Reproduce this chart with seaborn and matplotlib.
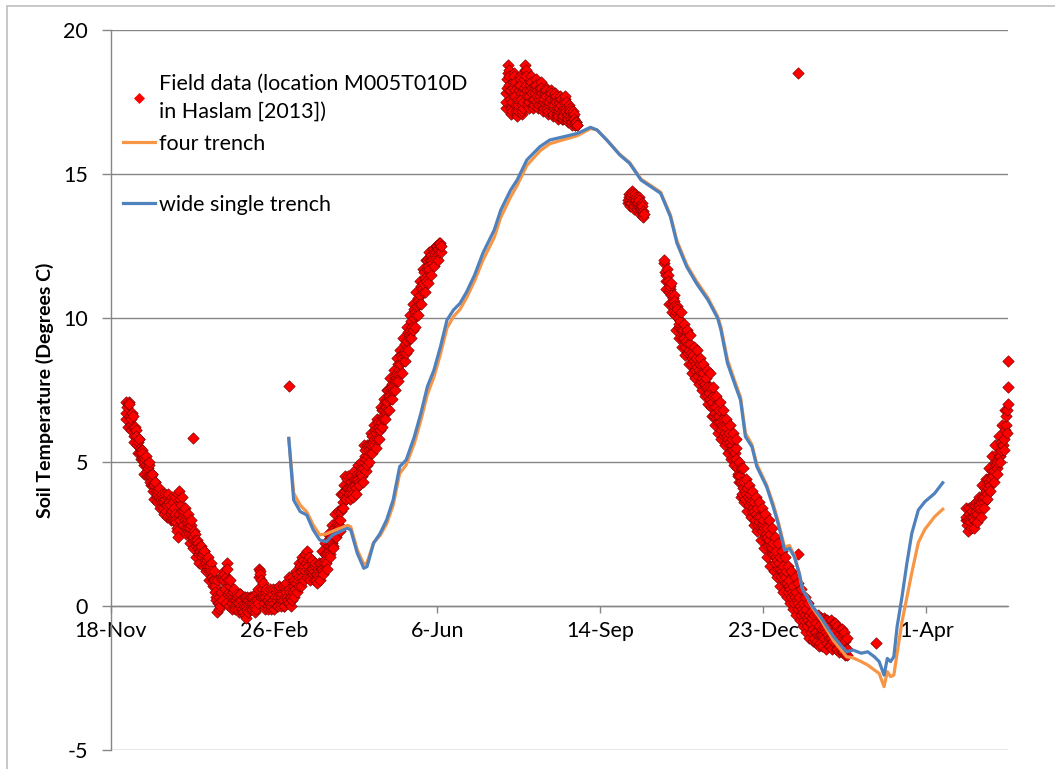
import numpy as np
import pandas as pd
import matplotlib
matplotlib.use("Agg")
import matplotlib.pyplot as plt
from matplotlib.lines import Line2D
from matplotlib.patches import Rectangle
from matplotlib.ticker import FixedLocator, FuncFormatter
import matplotlib.dates as mdates
import seaborn as sns

START = pd.Timestamp("2010-11-18")

# ---- Field observations (day 0 = 18-Nov-2010) ----
# Several readings per logging interval ("a", "b", "c" at staggered times of day).
field1_days_a = np.arange(9, 203)
field1_temp_a = [
    6.5, 6.9, 7.1, 6.3, 6.7, 5.9, 6.2, 5.6, 5.8, 5.3,
    5.4, 4.9, 5.1, 4.7, 4.9, 4.3, 4.6, 4.0, 4.3, 3.8,
    4.0, 3.6, 3.8, 3.4, 3.7, 3.3, 3.8, 3.5, 3.0, 3.6,
    3.2, 2.9, 2.4, 4.0, 3.5, 3.1, 3.3, 2.7, 3.0, 2.5,
    2.8, 2.3, 2.6, 2.1, 2.3, 1.8, 2.0, 1.7, 1.9, 1.4,
    1.6, 1.2, 1.4, 1.0, 0.9, 0.5, -0.2, 0.3, 0.0, 0.9,
    1.2, 0.6, 1.5, 0.4, 0.7, 0.1, 0.5, 0.0, 0.3, -0.1,
    0.4, 0.0, -0.2, 0.3, -0.4, 0.2, -0.1, 0.3, 0.0, 0.2,
    -0.1, 0.6, 1.3, 0.9, 0.4, 0.1, 0.5, 0.0, 0.3, -0.1,
    0.4, 0.1, 0.5, 0.0, 0.6, 0.2, 0.4, 0.0, 0.7, 0.3,
    0.1, 0.5, 0.2, 0.9, 0.6, 1.1, 0.7, 1.4, 1.0, 1.6,
    1.2, 1.9, 1.4, 1.0, 1.5, 1.1, 1.4, 0.9, 1.3, 1.1,
    1.5, 1.2, 1.8, 1.5, 2.1, 1.8, 2.4, 2.1, 2.7, 2.5,
    3.0, 2.7, 3.3, 3.6, 4.2, 3.8, 4.4, 3.9, 4.3, 3.9,
    4.4, 4.1, 4.6, 4.3, 4.8, 4.5, 5.0, 5.4, 4.9, 5.6,
    5.3, 5.9, 5.6, 6.1, 5.8, 6.4, 6.1, 6.8, 6.5, 7.1,
    6.8, 7.5, 7.2, 7.7, 7.5, 8.0, 7.8, 8.4, 8.1, 8.7,
    8.5, 9.1, 8.8, 9.5, 9.3, 9.9, 9.6, 10.3, 10.1, 10.7,
    10.5, 11.1, 10.9, 11.6, 11.3, 12.0, 11.7, 12.2, 11.9, 12.3,
    12.1, 12.5, 12.3, 12.6,
]
field1_days_b = np.arange(9.5, 203)
field1_temp_b = [
    6.7, 7.0, 6.6, 6.5, 6.2, 6.1, 5.9, 5.7, 5.5, 5.4,
    5.1, 5.0, 4.9, 4.8, 4.5, 4.5, 4.2, 4.2, 4.0, 3.9,
    3.8, 3.7, 3.6, 3.6, 3.5, 3.5, 3.6, 3.2, 3.3, 3.4,
    3.0, 2.6, 3.2, 3.7, 3.3, 3.2, 3.0, 2.9, 2.7, 2.7,
    2.5, 2.4, 2.3, 2.2, 2.0, 1.9, 1.8, 1.8, 1.6, 1.5,
    1.4, 1.3, 1.2, 0.9, 0.7, 0.2, 0.1, 0.1, 0.5, 1.0,
    0.9, 1.0, 0.9, 0.5, 0.4, 0.3, 0.2, 0.2, 0.1, 0.1,
    0.2, -0.1, 0.0, 0.0, -0.1, 0.0, 0.1, 0.1, 0.1, 0.0,
    0.2, 1.0, 1.1, 0.6, 0.3, 0.3, 0.2, 0.2, 0.1, 0.1,
    0.2, 0.3, 0.2, 0.3, 0.4, 0.3, 0.2, 0.3, 0.5, 0.2,
    0.3, 0.3, 0.5, 0.7, 0.8, 0.9, 1.0, 1.2, 1.3, 1.4,
    1.5, 1.6, 1.2, 1.2, 1.3, 1.2, 1.1, 1.1, 1.2, 1.3,
    1.3, 1.5, 1.6, 1.8, 1.9, 2.1, 2.2, 2.4, 2.6, 2.8,
    2.8, 3.0, 3.4, 3.9, 4.0, 4.1, 4.1, 4.1, 4.1, 4.2,
    4.2, 4.4, 4.4, 4.6, 4.6, 4.8, 5.2, 5.1, 5.2, 5.4,
    5.6, 5.7, 5.8, 6.0, 6.1, 6.2, 6.4, 6.6, 6.8, 6.9,
    7.1, 7.3, 7.5, 7.6, 7.8, 7.9, 8.1, 8.2, 8.4, 8.6,
    8.8, 8.9, 9.2, 9.4, 9.6, 9.7, 10.0, 10.2, 10.4, 10.6,
    10.8, 11.0, 11.2, 11.4, 11.7, 11.8, 12.0, 12.0, 12.1, 12.2,
    12.3, 12.4, 12.5, 12.5,
]
field1_days_c = np.arange(9.25, 203)
field1_temp_c = [
    7.1, 6.2, 7.0, 6.1, 6.6, 5.7, 6.1, 5.3, 5.8, 5.1,
    5.3, 4.6, 5.2, 4.5, 5.0, 4.2, 4.6, 3.7, 4.3, 3.6,
    4.1, 3.4, 3.9, 3.2, 3.9, 3.1, 3.9, 3.1, 3.8, 3.0,
    3.8, 2.7, 3.9, 3.0, 3.8, 2.8, 3.4, 2.5, 3.2, 2.2,
    3.0, 2.0, 2.5, 1.7, 2.2, 1.5, 2.1, 1.4, 1.9, 1.2,
    1.7, 0.9, 1.5, 0.7, 1.2, 0.3, 0.9, -0.1, 1.0, 0.2,
    1.1, 0.1, 1.3, 0.0, 0.9, -0.1, 0.6, -0.1, 0.4, -0.2,
    0.4, -0.2, 0.3, -0.3, 0.3, -0.2, 0.3, -0.1, 0.3, -0.2,
    0.5, 0.1, 1.2, 0.3, 0.8, -0.1, 0.6, -0.1, 0.6, 0.0,
    0.6, -0.1, 0.6, 0.0, 0.7, 0.0, 0.7, 0.0, 0.8, 0.1,
    0.6, 0.0, 1.0, 0.3, 1.2, 0.5, 1.5, 0.7, 1.7, 0.9,
    1.8, 1.0, 1.7, 0.9, 1.6, 0.9, 1.5, 0.8, 1.5, 0.9,
    1.9, 1.1, 2.2, 1.3, 2.5, 1.7, 2.8, 2.0, 3.2, 2.4,
    3.3, 2.6, 3.9, 3.4, 4.5, 3.7, 4.5, 3.7, 4.5, 3.8,
    4.7, 3.9, 4.9, 4.2, 5.0, 4.3, 5.6, 4.7, 5.6, 5.0,
    6.0, 5.3, 6.3, 5.5, 6.5, 5.8, 6.9, 6.2, 7.2, 6.5,
    7.5, 6.8, 7.9, 7.2, 8.2, 7.5, 8.6, 7.8, 8.9, 8.1,
    9.3, 8.5, 9.7, 8.9, 10.1, 9.3, 10.5, 9.7, 10.9, 10.1,
    11.3, 10.5, 11.7, 10.9, 12.0, 11.2, 12.3, 11.5, 12.4, 11.8,
    12.5, 12.0, 12.6, 12.3,
]

field2_days_a = np.arange(242, 286, 0.5)
field2_temp_a = [
    17.3, 17.8, 18.3, 18.8, 18.4, 17.9, 17.4, 17.1,
    17.5, 18.0, 18.5, 18.2, 17.7, 17.2, 17.0, 17.4,
    17.9, 18.4, 18.1, 17.6, 17.1, 17.3, 17.8, 18.3,
    18.8, 18.4, 17.9, 17.5, 17.3, 17.7, 18.1, 18.4,
    18.0, 17.6, 17.3, 17.6, 18.0, 18.3, 17.9, 17.5,
    17.3, 17.6, 17.9, 18.2, 17.8, 17.4, 17.2, 17.5,
    17.8, 18.0, 17.7, 17.3, 17.1, 17.4, 17.7, 17.9,
    17.6, 17.2, 17.0, 17.3, 17.6, 17.8, 17.5, 17.1,
    16.9, 17.2, 17.5, 17.7, 17.4, 17.0, 16.9, 17.2,
    17.5, 17.7, 17.3, 17.0, 16.8, 17.1, 17.4, 17.2,
    16.9, 16.7, 17.0, 17.2, 16.9, 16.7, 16.8, 16.7,
]
field2_days_b = np.arange(242.25, 286, 0.5)
field2_temp_b = [
    17.5, 18.0, 18.5, 18.6, 18.1, 17.6, 17.3, 17.2,
    17.7, 18.2, 18.4, 17.9, 17.4, 17.1, 17.2, 17.6,
    18.1, 18.3, 17.8, 17.4, 17.2, 17.5, 18.0, 18.6,
    18.6, 18.1, 17.7, 17.4, 17.5, 17.9, 18.2, 18.2,
    17.8, 17.4, 17.4, 17.8, 18.1, 18.1, 17.7, 17.4,
    17.4, 17.7, 18.0, 18.0, 17.6, 17.3, 17.3, 17.6,
    17.9, 17.9, 17.5, 17.2, 17.2, 17.5, 17.8, 17.8,
    17.4, 17.1, 17.1, 17.4, 17.7, 17.7, 17.3, 17.0,
    17.0, 17.3, 17.6, 17.6, 17.2, 16.9, 17.0, 17.3,
    17.6, 17.5, 17.2, 16.9, 16.9, 17.2, 17.3, 17.1,
    16.8, 16.8, 17.1, 17.1, 16.8, 16.7, 16.8, 16.7,
]

field3_days_a = np.arange(317, 327, 0.5)
field3_temp_a = [
    14.0, 14.3, 14.1, 13.9, 14.2, 14.4, 14.1, 13.8, 14.0, 14.3,
    14.1, 13.8, 13.9, 14.2, 13.9, 13.6, 13.8, 14.0, 13.7, 13.5,
]
field3_days_b = np.arange(317.25, 327, 0.5)
field3_temp_b = [
    14.1, 14.2, 14.0, 14.0, 14.3, 14.3, 13.9, 13.9, 14.1, 14.2,
    14.0, 13.8, 14.0, 14.1, 13.8, 13.7, 13.9, 13.9, 13.6, 13.6,
]

field4_days_a = np.arange(339, 452)
field4_temp_a = [
    11.9, 11.3, 11.7, 10.9, 11.1, 10.5, 10.8, 10.1, 10.4, 9.7,
    9.9, 9.3, 9.6, 9.0, 9.5, 8.8, 9.1, 8.4, 8.7, 8.2,
    8.6, 8.0, 8.4, 7.8, 8.1, 7.6, 7.9, 7.3, 7.6, 6.9,
    7.3, 6.6, 6.9, 6.4, 6.8, 6.1, 6.5, 5.9, 6.2, 5.7,
    6.0, 5.4, 5.8, 5.1, 5.5, 4.8, 4.3, 4.8, 3.9, 4.3,
    3.7, 4.1, 3.5, 3.9, 3.3, 3.6, 3.0, 3.4, 2.8, 3.1,
    2.6, 3.0, 2.4, 2.7, 2.1, 2.5, 1.8, 2.2, 1.5, 1.9,
    1.3, 1.7, 1.0, 1.4, 0.8, 1.2, 0.5, 0.9, 0.3, 0.7,
    0.1, 0.5, -0.1, 0.3, -0.3, 0.1, -0.5, -0.1, -0.7, -0.3,
    -0.9, -0.4, -1.1, -0.6, -1.2, -0.7, -1.3, -0.8, -1.1, -0.5,
    -1.3, -0.7, -1.4, -0.9, -1.2, -0.6, -1.5, -1.0, -1.3, -0.8,
    -1.6, -1.2, -1.7,
]
field4_days_b = np.arange(339.5, 452)
field4_temp_b = [
    11.6, 11.5, 11.3, 11.0, 10.8, 10.7, 10.4, 10.2, 10.0, 9.8,
    9.6, 9.5, 9.3, 9.2, 9.1, 8.9, 8.8, 8.6, 8.5, 8.4,
    8.3, 8.2, 8.1, 7.9, 7.8, 7.7, 7.6, 7.4, 7.2, 7.1,
    6.9, 6.7, 6.6, 6.6, 6.4, 6.3, 6.2, 6.0, 5.9, 5.8,
    5.7, 5.6, 5.4, 5.3, 5.1, 4.5, 4.5, 4.3, 4.1, 4.0,
    3.9, 3.8, 3.7, 3.6, 3.4, 3.3, 3.2, 3.1, 2.9, 2.8,
    2.8, 2.7, 2.5, 2.4, 2.3, 2.1, 2.0, 1.8, 1.7, 1.6,
    1.5, 1.3, 1.2, 1.1, 1.0, 0.8, 0.7, 0.6, 0.5, 0.4,
    0.3, 0.2, 0.1, 0.0, -0.1, -0.2, -0.3, -0.4, -0.5, -0.6,
    -0.6, -0.8, -0.9, -0.9, -1.0, -1.0, -1.0, -1.0, -0.8, -0.9,
    -1.0, -1.1, -1.1, -1.0, -0.9, -1.1, -1.2, -1.2, -1.1, -1.2,
    -1.4, -1.5, -1.5,
]
field4_days_c = np.arange(339.25, 452)
field4_temp_c = [
    12.0, 11.0, 11.5, 10.5, 11.2, 10.2, 10.6, 9.6, 10.3, 9.3,
    10.2, 9.0, 9.8, 8.7, 9.6, 8.4, 9.4, 8.1, 9.0, 7.9,
    8.9, 7.7, 8.6, 7.5, 8.4, 7.3, 8.2, 7.0, 8.1, 6.6,
    7.6, 6.3, 7.3, 6.0, 7.1, 5.8, 6.8, 5.6, 6.5, 5.3,
    6.3, 5.1, 6.0, 4.9, 5.8, 4.6, 5.0, 3.8, 4.8, 3.6,
    4.4, 3.3, 4.2, 3.1, 4.0, 2.8, 3.8, 2.6, 3.6, 2.3,
    3.4, 2.0, 3.2, 1.7, 3.0, 1.4, 2.7, 1.2, 2.4, 1.0,
    2.2, 0.7, 1.9, 0.5, 1.7, 0.3, 1.4, 0.1, 1.2, -0.1,
    1.0, -0.3, 0.8, -0.5, 0.6, -0.7, 0.3, -0.9, 0.1, -1.1,
    -0.2, -1.2, -0.3, -1.3, -0.3, -1.4, -0.4, -1.4, -0.4, -1.5,
    -0.5, -1.4, -0.5, -1.5, -0.6, -1.5, -0.7, -1.6, -0.8, -1.6,
    -0.9, -1.7, -1.1,
]

field5_days_a = np.arange(524, 551)
field5_temp_a = [
    3.0, 2.8, 3.2, 2.9, 3.3, 3.0, 3.5, 3.2, 3.6, 3.4,
    3.8, 3.6, 4.1, 3.9, 4.4, 4.2, 4.7, 4.5, 5.0, 4.8,
    5.3, 5.2, 5.7, 5.6, 6.1, 6.6, 7.0,
]
field5_days_b = np.arange(524.5, 550)
field5_temp_b = [
    3.1, 3.0, 3.0, 3.1, 3.1, 3.2, 3.3, 3.4, 3.5, 3.6,
    3.7, 3.8, 4.0, 4.1, 4.3, 4.4, 4.6, 4.7, 4.9, 5.0,
    5.2, 5.4, 5.6, 5.8, 6.3, 6.8,
]
field5_days_c = np.arange(524.25, 550)
field5_temp_c = [
    3.4, 2.6, 3.4, 2.7, 3.5, 2.7, 3.6, 2.9, 3.8, 3.1,
    4.2, 3.4, 4.4, 3.7, 4.8, 4.0, 5.2, 4.3, 5.6, 4.6,
    5.9, 5.0, 6.3, 5.4, 6.8, 6.0,
]

# isolated readings away from the main record
spike_days = [50, 109, 109, 421, 421, 469, 549.7, 549.7]
spike_temp = [5.85, 7.65, 1.0, 18.5, 1.8, -1.3, 7.6, 8.5]

# ---- Model results (same output days for both geometries) ----
model_days = [
    109, 112, 116, 120, 124, 128, 132, 136, 145, 147,
    151, 155, 157, 161, 165, 169, 173, 177, 181, 186,
    190, 194, 198, 202, 206, 210, 214, 218, 223, 228,
    235, 239, 245, 249, 255, 263, 269, 278, 286, 294,
    298, 304, 312, 318, 325, 331, 337, 343, 347, 353,
    359, 366, 372, 374, 378, 383, 386, 389, 393, 396, 402,
    406, 409, 413, 416, 419, 422, 424, 427, 430, 435,
    443, 451, 455, 460, 464, 468, 471, 474, 476, 478,
    480, 482, 485, 488, 491, 495, 499, 505, 510,
]
wide_single = [
    5.82, 3.68, 3.28, 3.16, 2.64, 2.29, 2.23, 2.47, 2.70, 2.64,
    1.83, 1.31, 1.37, 2.18, 2.52, 2.99, 3.68, 4.84, 5.07, 5.88,
    6.69, 7.62, 8.19, 9.00, 9.93, 10.28, 10.51, 10.9, 11.5, 12.25,
    13.06, 13.75, 14.44, 14.79, 15.49, 15.95, 16.18, 16.30, 16.41, 16.62,
    16.53, 16.18, 15.66, 15.37, 14.79, 14.56, 14.33, 13.52, 12.6, 11.78,
    11.2, 10.63, 9.99, 9.58, 8.43, 7.62, 7.15, 5.88, 5.53, 4.84, 4.14,
    3.45, 2.87, 1.94, 2.0, 1.71, 1.13, 0.56, 0.3, 0.0, -0.37,
    -1.06, -1.59, -1.53, -1.64, -1.59, -1.76, -1.93, -2.40, -1.82, -1.93,
    -1.76, -0.72, 0.32, 1.48, 2.52, 3.33, 3.62, 3.91, 4.28,
]
four_trench = [
    5.82, 3.92, 3.5, 3.27, 2.81, 2.47, 2.5, 2.6, 2.8, 2.75,
    1.95, 1.45, 1.5, 2.2, 2.45, 2.85, 3.5, 4.6, 4.9, 5.65,
    6.45, 7.35, 7.95, 8.75, 9.65, 10.05, 10.3, 10.7, 11.3, 12.0,
    12.8, 13.5, 14.2, 14.6, 15.3, 15.8, 16.05, 16.2, 16.33, 16.58,
    16.53, 16.18, 15.68, 15.4, 14.82, 14.6, 14.37, 13.58, 12.68, 11.85,
    11.28, 10.7, 10.05, 9.68, 8.55, 7.72, 7.25, 6.0, 5.6, 4.92, 4.2,
    3.55, 2.95, 2.05, 2.1, 1.75, 1.15, 0.6, 0.3, -0.05, -0.45,
    -1.2, -1.76, -1.8, -1.93, -2.05, -2.22, -2.34, -2.80, -2.28, -2.45,
    -2.4, -1.64, -0.55, 0.3, 1.15, 2.2, 2.66, 3.1, 3.36,
]

tick_days = [0, 100, 200, 300, 400, 500]
x_span_days = 550
y_ticks = [-5, 0, 5, 10, 15, 20]

FIELD_LABEL = "Field data (location M005T010D\nin Haslam [2013])"
RED = "#FF0000"
RED_EDGE = "#7a0000"
ORANGE = "#F79646"
BLUE = "#4F81BD"
GRID = "#868686"

plt.rcParams["font.family"] = ["Lato", "DejaVu Sans"]
FS = 15.5

pairs = [
    (field1_days_a, field1_temp_a), (field1_days_b, field1_temp_b),
    (field1_days_c, field1_temp_c),
    (field2_days_a, field2_temp_a), (field2_days_b, field2_temp_b),
    (field3_days_a, field3_temp_a), (field3_days_b, field3_temp_b),
    (field4_days_a, field4_temp_a), (field4_days_b, field4_temp_b),
    (field4_days_c, field4_temp_c),
    (field5_days_a, field5_temp_a), (field5_days_b, field5_temp_b),
    (field5_days_c, field5_temp_c),
    (spike_days, spike_temp),
]
field = pd.concat([pd.DataFrame({"day": d, "temp": t}) for d, t in pairs],
                  ignore_index=True).sort_values("day", kind="stable")
field["date"] = START + pd.to_timedelta(field["day"], unit="D")

model = pd.DataFrame({"day": model_days, "four": four_trench, "wide": wide_single})
model["date"] = START + pd.to_timedelta(model["day"], unit="D")

W, H = 1055, 769
fig = plt.figure(figsize=(W / 100, H / 100), dpi=100)
ax = fig.add_axes([111 / W, 1 - 750 / H, 897 / W, 720 / H])

sns.scatterplot(data=field, x="date", y="temp", marker="D", s=34,
                color=RED, edgecolor=RED_EDGE, linewidth=0.45,
                ax=ax, legend=False, clip_on=False, zorder=3)
sns.lineplot(data=model, x="date", y="four", color=ORANGE, lw=2.3,
             estimator=None, sort=False, ax=ax, legend=False, zorder=4)
sns.lineplot(data=model, x="date", y="wide", color=BLUE, lw=2.3,
             estimator=None, sort=False, ax=ax, legend=False, zorder=5)

ax.set_ylim(-5, 20)
ax.set_xlim(START, START + pd.Timedelta(days=x_span_days))
ax.set_yticks(y_ticks)
ax.yaxis.set_major_formatter(FuncFormatter(lambda v, p: f"{v:g}"))

tick_dates = [mdates.date2num(START + pd.Timedelta(days=d)) for d in tick_days]
ax.xaxis.set_major_locator(FixedLocator(tick_dates))
ax.xaxis.set_major_formatter(FuncFormatter(
    lambda v, p: f"{mdates.num2date(v).day}-{mdates.num2date(v).strftime('%b')}"))

ax.grid(axis="y", color=GRID, lw=1.0)
ax.set_axisbelow(True)
for s in ("top", "right"):
    ax.spines[s].set_visible(False)
ax.spines["bottom"].set_position(("data", 0))
for s in ("left", "bottom"):
    ax.spines[s].set_color(GRID)
    ax.spines[s].set_linewidth(1.0)
ax.tick_params(axis="y", direction="out", length=6.5, width=1, color=GRID,
               pad=10, labelsize=FS, labelcolor="black")
ax.tick_params(axis="x", direction="out", length=5, width=1, color=GRID,
               pad=6, labelsize=FS, labelcolor="black")

ax.set_xlabel("")
ax.set_ylabel("Soil Temperature (Degrees C)", fontsize=14, fontweight="bold")
ax.yaxis.set_label_coords(-0.064, 0.5)

h_field = Line2D([], [], ls="none", marker="D", markersize=5,
                 markerfacecolor=RED, markeredgecolor=RED, markeredgewidth=0.5)
h_four = Line2D([], [], color=ORANGE, lw=2.3)
h_wide = Line2D([], [], color=BLUE, lw=2.3)

leg_kw = dict(loc="upper left", bbox_transform=fig.transFigure, frameon=False,
              fontsize=FS, handlelength=1.5, handletextpad=0.15, borderpad=0,
              borderaxespad=0)
leg1 = ax.legend([h_field, h_four], [FIELD_LABEL, "four trench"],
                 bbox_to_anchor=(123 / W, 1 - 74 / H), labelspacing=0.55, **leg_kw)
leg1.get_texts()[0].set_linespacing(1.5)
ax.add_artist(leg1)
ax.legend([h_wide], ["wide single trench"],
          bbox_to_anchor=(123 / W, 1 - 195 / H), **leg_kw)

fig.patches.append(Rectangle((7 / W, -0.05), 1.2, 1 - 6 / H + 0.05,
                             transform=fig.transFigure, fill=False,
                             ec="#bfbfbf", lw=1.2))

fig.savefig("out.png", dpi=100)
